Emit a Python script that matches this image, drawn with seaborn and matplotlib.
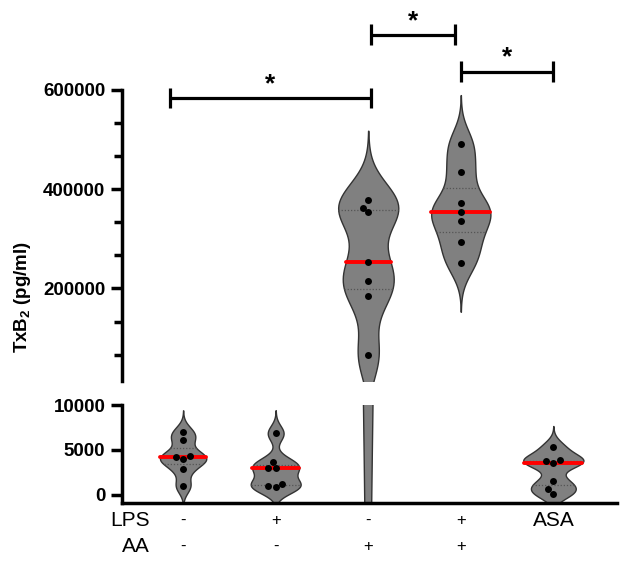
import numpy as np
import pandas as pd
import matplotlib
matplotlib.use("Agg")
import matplotlib.pyplot as plt
import matplotlib.transforms as mtransforms
import seaborn as sns

# data
groups = ["Ctrl", "LPS", "AA", "LPS+AA", "ASA"]
ctrl = [7000, 6100, 4200, 4300, 3950, 2900, 1000]
lps = [6850, 3650, 3000, 2950, 1200, 950, 900]
aa = [378000, 362000, 353000, 254000, 214700, 184700, 66700]
lps_aa = [490000, 434000, 372000, 354700, 334700, 292700, 252000]
asa = [5300, 3850, 3800, 3600, 1500, 650, 100]

lps_row = ["-", "+", "-", "+", "ASA"]
aa_row = ["-", "-", "+", "+", ""]

# significance brackets (x from, x to, height)
brackets = [(-0.14, 2.03, 582000), (2.03, 2.94, 710000), (3.0, 4.0, 636000)]

values = [ctrl, lps, aa, lps_aa, asa]
df = pd.DataFrame({
    "group": [g for g, v in zip(groups, values) for _ in v],
    "value": [x for v in values for x in v],
})

sns.set_style("ticks")
plt.rcParams["font.family"] = ["Liberation Sans", "DejaVu Sans"]
plt.rcParams["mathtext.fontset"] = "custom"
plt.rcParams["mathtext.bf"] = "Liberation Sans:bold"
plt.rcParams["mathtext.rm"] = "Liberation Sans:bold"
plt.rcParams["mathtext.default"] = "bf"
plt.rcParams["axes.edgecolor"] = "black"
plt.rcParams["text.color"] = "black"
plt.rcParams["ytick.color"] = "black"

fig = plt.figure(figsize=(6.3, 5.63), dpi=100)
ax_top = fig.add_axes([0.1937, 0.3224, 0.786, 0.6599])
ax_low = fig.add_axes([0.1937, 0.1066, 0.786, 0.174])

widths = [0.5, 0.54, 0.65, 0.64, 0.65]
limits = {ax_top: (13000, 760000), ax_low: (-900, 10000)}

for ax in (ax_top, ax_low):
    for g, w in zip(groups, widths):
        sns.violinplot(data=df[df["group"] == g], x="group", y="value", order=groups,
                       color="#808080", saturation=1, inner="quart", density_norm="width",
                       width=w, bw_adjust=0.6, cut=3, linewidth=1.0, linecolor="#333333",
                       ax=ax)
    for k, ln in enumerate(ax.lines):
        if k % 3 == 1:
            ln.set_color("red")
            ln.set_linewidth(2.8)
            ln.set_linestyle("-")
            ln.set_zorder(3)
        else:
            ln.set_color("#555555")
            ln.set_linewidth(0.9)
            ln.set_linestyle((0, (1, 1.5)))
    lo, hi = limits[ax]
    shown = df[(df["value"] >= lo) & (df["value"] <= hi)]
    sns.swarmplot(data=shown, x="group", y="value", order=groups, color="black",
                  size=5, ax=ax, zorder=4)
    for art in ax.collections + ax.lines:
        art.set_clip_on(True)
    ax.set_ylim(lo, hi)
    ax.set_xlim(-0.66, 4.69)
    ax.set_xlabel("")
    ax.set_ylabel("")
    ax.spines["top"].set_visible(False)
    ax.spines["right"].set_visible(False)
    ax.spines["left"].set_linewidth(2.5)
    ax.spines["bottom"].set_linewidth(2.5)
    ax.tick_params(axis="y", width=2.5, length=8, pad=4, labelsize=13.5, colors="black")

# upper part
ax_top.spines["left"].set_bounds(13000, 600000)
ax_top.spines["bottom"].set_visible(False)
ax_top.set_xticks([])
ax_top.set_yticks([200000, 400000, 600000])
ax_top.set_yticklabels(["200000", "400000", "600000"], fontweight="bold", fontsize=13.5)
ax_top.set_yticks([66667, 133333, 266667, 333333, 466667, 533333], minor=True)
ax_top.tick_params(axis="y", which="minor", width=2.5, length=6)

# lower part
ax_low.set_yticks([0, 5000, 10000])
ax_low.set_yticklabels(["0", "5000", "10000"], fontweight="bold", fontsize=13.5)
ax_low.set_xticks([])

# brackets
for x1, x2, h in brackets:
    ax_top.hlines(h, x1, x2, color="black", lw=2.3, clip_on=False)
    ax_top.vlines([x1, x2], h - 20000, h + 22000, color="black", lw=2.3, clip_on=False)
    ax_top.annotate("*", xy=((x1 + x2) / 2, h), xytext=(0, 10), textcoords="offset points",
                    ha="center", va="center", fontsize=19, fontweight="bold",
                    annotation_clip=False)

# y label across both axes
fig.text(0.035, 1 - 297 / 563, "TxB$_2$ (pg/ml)", rotation=90, ha="center", va="center",
         fontsize=13.5, fontweight="bold")

# treatment rows
trans = mtransforms.blended_transform_factory(ax_low.transData, fig.transFigure)
for i, (a, b) in enumerate(zip(lps_row, aa_row)):
    ax_low.text(i, 1 - 520 / 563, a, transform=trans, ha="center", va="center",
                fontsize=15 if len(a) > 1 else 12)
    ax_low.text(i, 1 - 546 / 563, b, transform=trans, ha="center", va="center", fontsize=12)
fig.text(150 / 630, 1 - 520 / 563, "LPS", ha="right", va="center", fontsize=15)
fig.text(150 / 630, 1 - 546 / 563, "AA", ha="right", va="center", fontsize=15)

fig.savefig("out.png", dpi=100)
